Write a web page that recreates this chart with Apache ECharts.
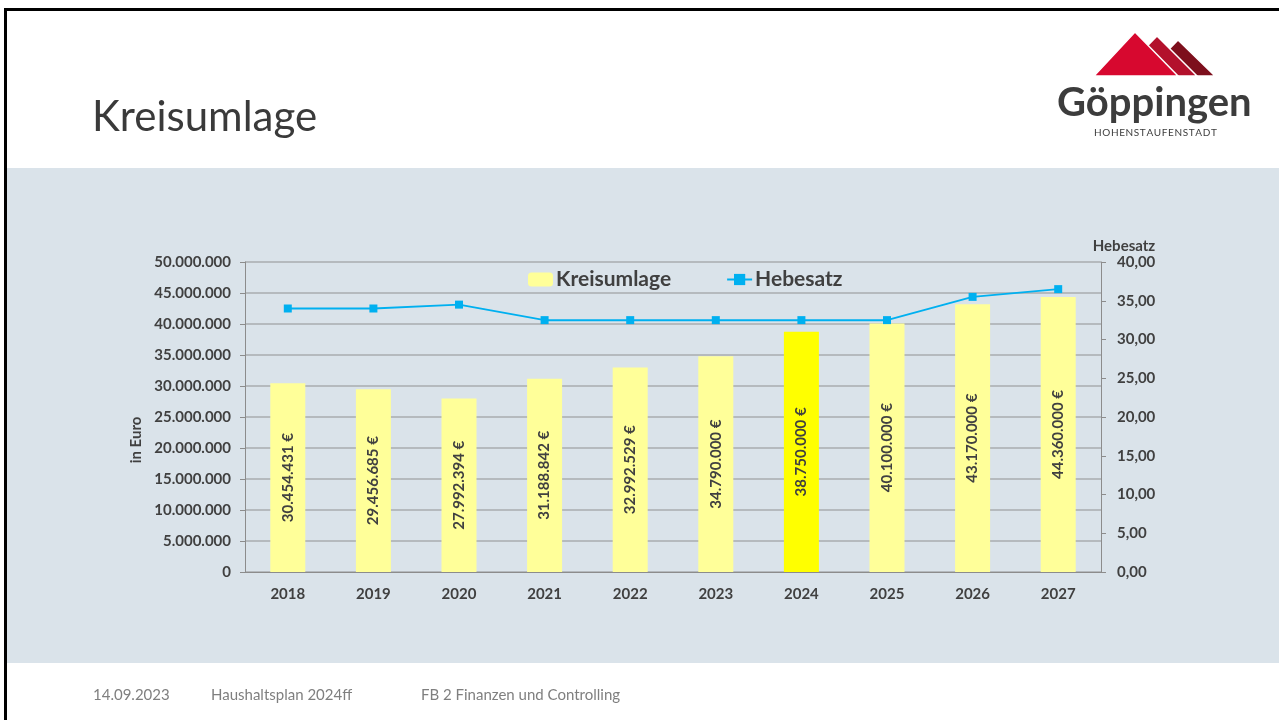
<!DOCTYPE html>
<html>
<head>
<meta charset="utf-8">
<title>Kreisumlage</title>
<script src="https://cdn.jsdelivr.net/npm/echarts@6/dist/echarts.min.js"></script>
<style>
  html, body { margin: 0; padding: 0; background: #fff; }
  #main { width: 1279px; height: 720px; }
</style>
</head>
<body>
<div id="main"></div>
<script>
// Kreisumlage / Hebesatz 2018-2027
var years = ['2018', '2019', '2020', '2021', '2022', '2023', '2024', '2025', '2026', '2027'];
var kreisumlage = [30454431, 29456685, 27992394, 31188842, 32992529, 34790000, 38750000, 40100000, 43170000, 44360000];
var hebesatz = [34.0, 34.0, 34.5, 32.5, 32.5, 32.5, 32.5, 32.5, 35.5, 36.5];
var highlightYear = '2024';
var footer = ['14.09.2023', 'Haushaltsplan 2024ff', 'FB 2 Finanzen und Controlling'];

var FONT = 'Lato';
var txt = '#404040';

// 30454431 -> "30.454.431"
function dots(n) {
	var s = String(Math.round(n));
	return s.replace(/\B(?=(\d{3})+(?!\d))/g, '.');
}

var barData = [];
for (var i = 0; i < years.length; i++) {
	barData.push({
		value: kreisumlage[i],
		itemStyle: { color: years[i] == highlightYear ? '#ffff00' : '#ffff99' }
	});
}

var myChart = echarts.init(document.getElementById('main'));

var option = {
	backgroundColor: '#ffffff',
	animation: false,
	textStyle: { fontFamily: FONT },
	graphic: [
		// hellblaue Fläche
		{ type: 'rect', z: -10, shape: { x: 7, y: 168, width: 1272, height: 495 }, style: { fill: '#dae3ea' } },
		// Rahmen
		{ type: 'rect', z: -5, shape: { x: 4, y: 8, width: 1275, height: 3 }, style: { fill: '#000' } },
		{ type: 'rect', z: -5, shape: { x: 4, y: 8, width: 3, height: 712 }, style: { fill: '#000' } },
		// Titel
		{ type: 'text', left: 92, top: 96, style: { text: 'Kreisumlage', fontFamily: FONT, fontSize: 42, fill: '#3a3a3a' } },
		// Logo
		{ type: 'polygon', shape: { points: [[1178, 40], [1143, 76], [1215, 76]] }, style: { fill: '#7d0f1c', stroke: '#fff', lineWidth: 1.5 } },
		{ type: 'polygon', shape: { points: [[1157, 36], [1118, 76], [1197, 76]] }, style: { fill: '#b3112c', stroke: '#fff', lineWidth: 1.5 } },
		{ type: 'polygon', shape: { points: [[1135, 32], [1094, 76], [1178, 76]] }, style: { fill: '#d7082f', stroke: '#fff', lineWidth: 1.5 } },
		{ type: 'text', left: 1057, top: 83, style: { text: 'Göppingen', fontFamily: FONT, fontWeight: 'bold', fontSize: 40, fill: '#3c3c3c' } },
		{ type: 'text', left: 1094, top: 128, style: { text: 'HOHENSTAUFENSTADT'.split('').join('\u200A'), fontFamily: FONT, fontSize: 10, fill: '#3c3c3c' } },
		// Fußzeile
		{ type: 'text', left: 93, top: 688, style: { text: footer[0], fontFamily: FONT, fontSize: 15, fill: '#7f7f7f' } },
		{ type: 'text', left: 211, top: 688, style: { text: footer[1], fontFamily: FONT, fontSize: 15, fill: '#7f7f7f' } },
		{ type: 'text', left: 421, top: 688, style: { text: footer[2], fontFamily: FONT, fontSize: 15, fill: '#7f7f7f' } }
	],
	legend: {
		left: 523,
		top: 264,
		itemWidth: 25,
		itemHeight: 14,
		itemGap: 55,
		textStyle: { fontFamily: FONT, fontSize: 21, fontWeight: 'bold', color: txt, padding: [0, 0, 0, -2] },
		data: [
			{ name: 'Kreisumlage', itemStyle: { color: '#ffff99' } },
			{ name: 'Hebesatz' }
		]
	},
	grid: { left: 245, right: 178, top: 262, bottom: 148 },
	xAxis: {
		type: 'category',
		data: years,
		axisLine: { lineStyle: { color: '#8c8c8c', width: 1 } },
		axisTick: { alignWithLabel: false, length: 5, lineStyle: { color: '#8c8c8c' } },
		axisLabel: { color: txt, fontWeight: 'bold', fontSize: 15, margin: 15 }
	},
	yAxis: [{
		type: 'value',
		min: 0,
		max: 50000000,
		interval: 5000000,
		name: 'in Euro',
		nameLocation: 'middle',
		nameGap: 100,
		nameTextStyle: { color: txt, fontWeight: 'bold', fontSize: 15, padding: [0, 46, 0, 0] },
		axisLine: { show: true, lineStyle: { color: '#8c8c8c' } },
		axisTick: { show: true, length: 5, lineStyle: { color: '#8c8c8c' } },
		axisLabel: { color: txt, fontWeight: 'bold', fontSize: 15, margin: 14, formatter: function(v) { return dots(v); } },
		splitLine: { lineStyle: { color: '#a9acaf', width: 1.5 } }
	}, {
		type: 'value',
		min: 0,
		max: 40,
		interval: 5,
		name: 'Hebesatz',
		nameGap: 8,
		nameTextStyle: { color: txt, fontWeight: 'bold', fontSize: 15, padding: [0, 0, 0, 46] },
		axisLine: { show: true, lineStyle: { color: '#8c8c8c' } },
		axisTick: { show: true, length: 5, lineStyle: { color: '#8c8c8c' } },
		axisLabel: { color: txt, fontWeight: 'bold', fontSize: 15, margin: 16, formatter: function(v) { return v.toFixed(2).replace('.', ','); } },
		splitLine: { show: false }
	}],
	series: [{
		name: 'Kreisumlage',
		type: 'bar',
		barWidth: 35,
		data: barData,
		itemStyle: { color: '#ffff99' },
		label: {
			show: true,
			position: 'inside',
			rotate: 90,
			color: txt,
			fontWeight: 'bold',
			fontSize: 15,
			formatter: function(p) { return dots(p.value) + ' €'; }
		}
	}, {
		name: 'Hebesatz',
		type: 'line',
		yAxisIndex: 1,
		data: hebesatz,
		symbol: 'rect',
		symbolSize: 8,
		lineStyle: { color: '#00b0f0', width: 2 },
		itemStyle: { color: '#00b0f0' }
	}]
};

myChart.setOption(option);
</script>
</body>
</html>
